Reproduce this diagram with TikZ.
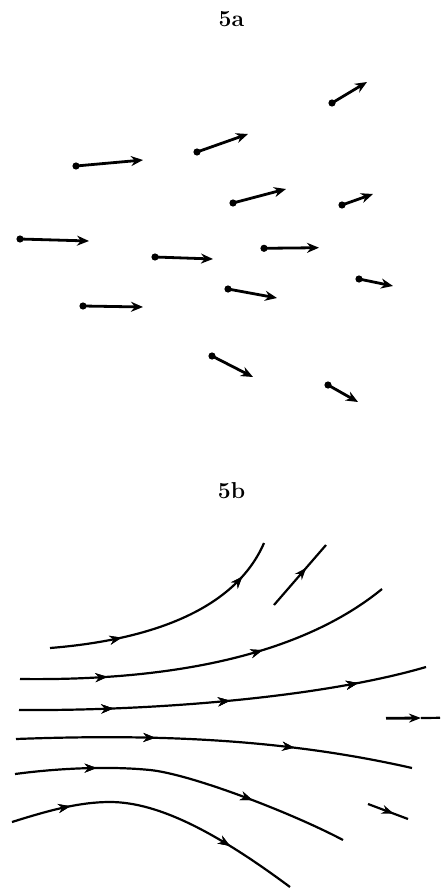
\documentclass[tikz,border=0pt]{standalone}
\usetikzlibrary{arrows.meta,decorations.markings}
\begin{document}
\begin{tikzpicture}[x=0.5pt,y=-0.5pt,
  vec/.style={line width=1.4pt,-{Stealth[length=6pt,width=5pt]}},
  taildot/.style={fill=black},
  flow/.style={line width=1.1pt},
  lbl/.style={font=\fontsize{11.5}{14}\selectfont\bfseries,anchor=base,inner sep=0pt},
  mk/.style={postaction={decorate},decoration={markings,
     mark=at position #1 with {\arrow{Stealth[length=6pt,width=4.5pt]}}}}
]
\useasboundingbox (0,0) rectangle (442,888);
\node[lbl] (la) at (231.5,27) {5a};
\node[lbl] (lb) at (231.5,498) {5b};
% ---------- 5a ----------
\foreach \n/\sx/\sy/\ex/\ey in {
  1/332/103/367/82,
  2/197/152/248/134,
  3/76/166/143/160,
  4/233/203/286/189,
  5/342/205/373/194,
  6/20/239/89/241,
  7/155/257/213/259,
  8/264/248.3/319/247.7,
  9/359/279/393/286,
  10/228/289/277/298,
  11/83/306/143/307,
  12/212/356/253/377,
  13/328/385/358/402}{
  \coordinate (s\n) at (\sx,\sy);
  \coordinate (e\n) at (\ex,\ey);
  \draw[vec] (s\n) -- (e\n);
  \fill[taildot] (s\n) circle (1.8pt);
}
% ---------- 5b ----------
\coordinate (as) at (50,648);  \coordinate (ae) at (264,543);
\draw[flow,mk/.list={0.29,0.84}] (as) .. controls (150,640) and (235,610) .. (ae);
\coordinate (bs) at (274,605); \coordinate (be) at (326,545);
\draw[flow,mk=0.62] (bs) -- (be);
\coordinate (cs) at (20,679);  \coordinate (ce) at (382,589);
\draw[flow,mk/.list={0.23,0.645}] (cs) .. controls (170,681) and (300,656) .. (ce);
\coordinate (ds) at (19,710);  \coordinate (de) at (426,667);
\draw[flow,mk/.list={0.23,0.515,0.83}] (ds) .. controls (150,711) and (320,698) .. (de);
\coordinate (es) at (16,739);  \coordinate (ee) at (412,768);
\draw[flow,mk/.list={0.35,0.70}] (es) .. controls (150,734) and (280,738) .. (ee);
\coordinate (fs) at (386,718.3); \coordinate (fm) at (421,718); \coordinate (fe) at (440,717.8);
\draw[line width=1.4pt,-{Stealth[length=6pt,width=4.5pt]}] (fs) -- (fm);
\draw[line width=1.1pt] (fm) -- (fe);
\coordinate (gs) at (15,774);  \coordinate (gm) at (150,770); \coordinate (ge) at (343,840);
\draw[flow,mk/.list={0.24,0.71}] (gs) .. controls (60,768) and (110,766) .. (gm)
   .. controls (190,774) and (290,812) .. (ge);
\coordinate (hs) at (368,804); \coordinate (he) at (408,819);
\draw[flow,mk=0.64] (hs) -- (he);
\coordinate (is) at (12,822);  \coordinate (im) at (110,802); \coordinate (ie) at (290,887);
\draw[flow,mk/.list={0.2,0.76}] (is) .. controls (50,810) and (80,802) .. (im)
   .. controls (160,802) and (220,835) .. (ie);
\end{tikzpicture}
\end{document}
